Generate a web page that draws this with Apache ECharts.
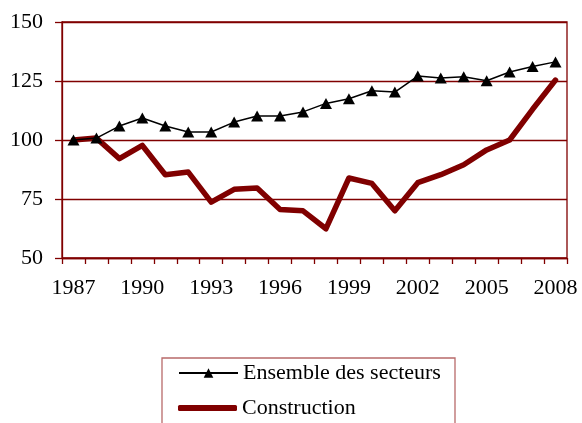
<!DOCTYPE html>
<html><head><meta charset="utf-8">
<script src="https://cdn.jsdelivr.net/npm/echarts@6/dist/echarts.min.js"></script>
<style>html,body{margin:0;padding:0;background:#fff}#c{width:582px;height:423px}</style>
</head><body><div id="c"></div>
<script>
var years = ['1987','1988','1989','1990','1991','1992','1993','1994','1995','1996','1997','1998','1999','2000','2001','2002','2003','2004','2005','2006','2007','2008'];
var ensemble = [100,100.8,105.9,109.3,105.9,103.4,103.4,107.6,110.2,110.2,111.9,115.5,117.5,120.9,120.3,127.1,126.3,126.8,125.1,128.8,131.1,133.1];
var construction = [100,100.8,92.1,97.7,85.3,86.4,73.7,79.1,79.7,70.6,70.0,62.4,83.9,81.6,70.0,81.9,85.3,89.5,95.8,100,113,125.4];
var yTicks = [50,75,100,125,150];
var seriesNames = ['Ensemble des secteurs','Construction'];

var red = '#800000';
var font = '"Liberation Serif","Times New Roman",serif';
var chart = echarts.init(document.getElementById('c'), null, {renderer:'canvas'});
chart.setOption({
  animation:false,
  graphic:[{type:'rect',shape:{x:162,y:358,width:293,height:80},
    style:{fill:'none',stroke:'#b86a6a',lineWidth:1.3},silent:true}],
  grid:{left:62,right:15,top:22,bottom:165,show:true,borderColor:red,borderWidth:1.3,backgroundColor:'transparent'},
  legend:[{
    left:178,top:362,padding:0,
    data:[seriesNames[0]],
    itemWidth:59,itemHeight:12,
    textStyle:{fontFamily:font,fontSize:22,color:'#000'}
  },{
    left:178,top:397,padding:0,
    data:[{name:seriesNames[1],icon:'roundRect'}],
    itemWidth:59,itemHeight:6,
    textStyle:{fontFamily:font,fontSize:22,color:'#000'}
  }],
  xAxis:{
    type:'category',data:years,boundaryGap:true,
    axisLine:{lineStyle:{color:red,width:1.3}},
    axisTick:{show:true,interval:0,length:6,lineStyle:{color:red,width:1.3}},
    axisLabel:{interval:2,margin:19,color:'#000',fontFamily:font,fontSize:22},
    splitLine:{show:false}
  },
  yAxis:{
    type:'value',min:yTicks[0],max:yTicks[yTicks.length-1],interval:25,
    axisLine:{show:true,lineStyle:{color:red,width:1.3}},
    axisTick:{show:true,length:7,lineStyle:{color:red,width:1.3}},
    axisLabel:{margin:19,color:'#000',fontFamily:font,fontSize:22},
    splitLine:{show:true,lineStyle:{color:red,width:1.3}}
  },
  series:[
    {name:seriesNames[0],type:'line',data:ensemble,symbol:'triangle',symbolSize:[12,11],
     showAllSymbol:true,
     lineStyle:{color:'#000',width:1.5},itemStyle:{color:'#000'},z:3},
    {name:seriesNames[1],type:'line',data:construction,symbol:'none',
     lineStyle:{color:red,width:5.5,cap:'round',join:'round'},itemStyle:{color:red},z:2}
  ]
});
</script></body></html>
